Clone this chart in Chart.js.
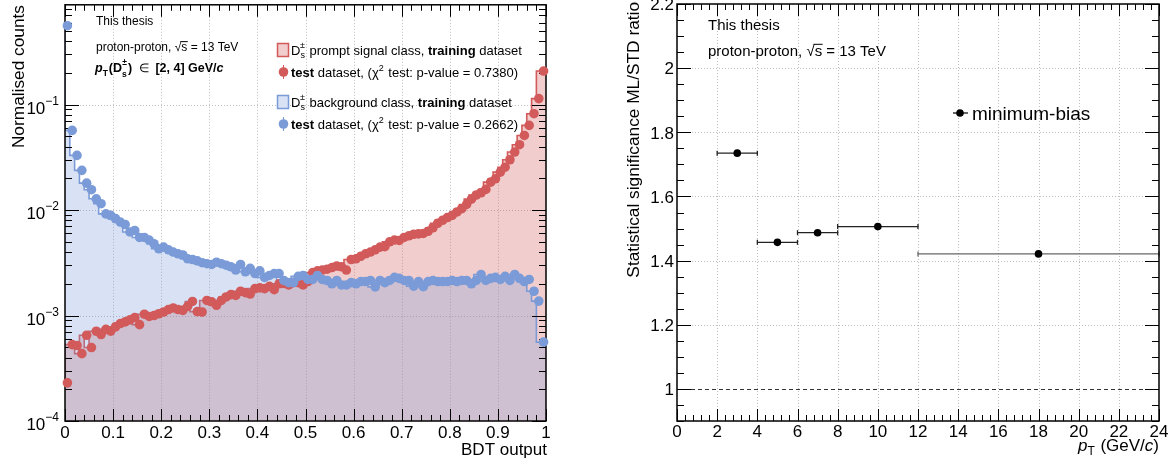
<!DOCTYPE html>
<html>
<head>
<meta charset="utf-8">
<script src="https://cdn.jsdelivr.net/npm/chart.js@4.4.1/dist/chart.umd.min.js"></script>
<style>
  html, body { margin: 0; padding: 0; background: #fff; }
  #wrap { position: relative; width: 1176px; height: 464px; }
  canvas { position: absolute; top: 0; }
  #bdtCanvas { left: 0; }
  #sigCanvas { left: 588px; }
</style>
</head>
<body>
<div id="wrap">
  <canvas id="bdtCanvas" width="588" height="464"></canvas>
  <canvas id="sigCanvas" width="588" height="464"></canvas>
</div>
<script>
// ---- left panel: BDT output, 100 bins between 0 and 1 ----
const bdtRange = [0, 1];
const nBins = 100;

// Ds prompt signal class, test dataset (normalised counts per bin)
const signalTest = [
  2.3e-4, 5.3e-4, 5.2e-4, 4.35e-4, 6.5e-4, 4.97e-4, 7.1e-4, 6.6e-4, 7.4e-4, 7.1e-4,
  7.8e-4, 8.4e-4, 8.7e-4, 9.1e-4, 9.55e-4, 8.2e-4, 1.03e-3, 9.8e-4, 1.0e-3, 1.04e-3,
  1.08e-3, 1.14e-3, 1.18e-3, 1.14e-3, 1.12e-3, 1.22e-3, 1.36e-3, 1.09e-3, 1.08e-3, 1.39e-3,
  1.35e-3, 1.25e-3, 1.39e-3, 1.5e-3, 1.58e-3, 1.55e-3, 1.7e-3, 1.65e-3, 1.6e-3, 1.8e-3,
  1.83e-3, 1.8e-3, 1.89e-3, 1.76e-3, 2.0e-3, 2.02e-3, 1.95e-3, 2.05e-3, 2.05e-3, 1.95e-3,
  2.1e-3, 2.55e-3, 2.65e-3, 2.7e-3, 2.75e-3, 2.85e-3, 2.95e-3, 2.9e-3, 2.7e-3, 3.4e-3,
  3.45e-3, 3.65e-3, 3.85e-3, 4.0e-3, 4.2e-3, 4.45e-3, 4.5e-3, 5.0e-3, 5.2e-3, 5.15e-3,
  5.5e-3, 5.7e-3, 5.9e-3, 5.95e-3, 6.0e-3, 6.3e-3, 6.8e-3, 7.5e-3, 8.0e-3, 8.5e-3,
  8.9e-3, 9.6e-3, 1.03e-2, 1.13e-2, 1.27e-2, 1.39e-2, 1.46e-2, 1.57e-2, 1.84e-2, 1.98e-2,
  2.29e-2, 2.55e-2, 3.0e-2, 3.55e-2, 4.17e-2, 5.1e-2, 6.35e-2, 8.2e-2, 0.114, 0.208
];

// Ds background class, test dataset
const bkgTest = [
  0.56, 0.057, 0.033, 0.0238, 0.018, 0.0156, 0.0128, 0.0115, 0.0092, 0.0089,
  0.0083, 0.0077, 0.0073, 0.0062, 0.0064, 0.0055, 0.0055, 0.0052, 0.0048, 0.0043,
  0.00445, 0.0042, 0.0040, 0.00385, 0.00375, 0.00345, 0.0034, 0.0033, 0.00317, 0.0031,
  0.00305, 0.0032, 0.0031, 0.0030, 0.0029, 0.0027, 0.00305, 0.0026, 0.0028, 0.0025,
  0.00265, 0.0023, 0.0024, 0.0025, 0.0025, 0.00215, 0.00205, 0.00205, 0.00235, 0.0024,
  0.0022, 0.0022, 0.0024, 0.0022, 0.00215, 0.0020, 0.00215, 0.00195, 0.00195, 0.00205,
  0.0020, 0.0021, 0.0021, 0.00215, 0.00187, 0.00215, 0.00205, 0.00215, 0.0023, 0.00225,
  0.00215, 0.00215, 0.0019, 0.0021, 0.00188, 0.0021, 0.00215, 0.0021, 0.0021, 0.0021,
  0.00215, 0.0021, 0.00215, 0.00215, 0.0020, 0.00215, 0.00245, 0.00215, 0.00225, 0.0023,
  0.0022, 0.00235, 0.00215, 0.00245, 0.00225, 0.0021, 0.0022, 0.0017, 0.00137, 0.00056
];

// training histograms coincide with the test points at this resolution
const signalTrain = signalTest.slice();
const bkgTrain = bkgTest.slice();

const bdtXTicks = [0, 0.1, 0.2, 0.3, 0.4, 0.5, 0.6, 0.7, 0.8, 0.9, 1];
const bdtXLabels = ['0', '0.1', '0.2', '0.3', '0.4', '0.5', '0.6', '0.7', '0.8', '0.9', '1'];
const bdtYTicks = [1e-4, 1e-3, 1e-2, 1e-1];
const bdtYExp = ['\u22124', '\u22123', '\u22122', '\u22121'];

// ---- right panel: significance ratio vs pT ----
const ptLow = [2, 4, 6, 8, 12];
const ptHigh = [4, 6, 8, 12, 24];
const ptCentre = [3, 5, 7, 10, 18];
const sigRatio = [1.735, 1.457, 1.487, 1.506, 1.421];

const ptXTicks = [0, 2, 4, 6, 8, 10, 12, 14, 16, 18, 20, 22, 24];
const sigYTicks = [1, 1.2, 1.4, 1.6, 1.8, 2, 2.2];
const sigYLabels = ['1', '1.2', '1.4', '1.6', '1.8', '2', '2.2'];

const SANS = '"Liberation Sans", Arial, Helvetica, sans-serif';
const RED = '#d25a5a';
const BLUE = '#7a9bd8';
const RED_FILL = 'rgba(210, 90, 90, 0.3)';
const BLUE_FILL = 'rgba(122, 155, 216, 0.29)';

function range(a, b, step) {
  const n = Math.round((b - a) / step);
  return Array.from({ length: n + 1 }, (_, i) => +(a + i * step).toFixed(6));
}

function binCentres(vals) {
  const w = (bdtRange[1] - bdtRange[0]) / nBins;
  return vals.map((v, i) => ({ x: bdtRange[0] + (i + 0.5) * w, y: v }));
}

function binEdges(vals) {
  const w = (bdtRange[1] - bdtRange[0]) / nBins;
  const pts = vals.map((v, i) => ({ x: bdtRange[0] + i * w, y: v }));
  pts.push({ x: bdtRange[1], y: vals[vals.length - 1] });
  return pts;
}

function line(ctx, x1, y1, x2, y2) {
  ctx.beginPath(); ctx.moveTo(x1, y1); ctx.lineTo(x2, y2); ctx.stroke();
}

// draws a run of text pieces: [text, font, dy, extraAdvance]
function rich(ctx, x, y, parts, align) {
  let w = 0;
  parts.forEach(p => { ctx.font = p[1]; w += ctx.measureText(p[0]).width + (p[3] || 0); });
  let cx = align === 'right' ? x - w : x;
  ctx.textAlign = 'left';
  ctx.textBaseline = 'alphabetic';
  const xs = [];
  parts.forEach(p => {
    ctx.font = p[1];
    xs.push(cx);
    ctx.fillText(p[0], cx, y + (p[2] || 0));
    cx += ctx.measureText(p[0]).width + (p[3] || 0);
  });
  return xs;
}

// "proton-proton, sqrt(s) = 13 TeV"
function collisionText(ctx, x, y, size) {
  const f = `${size}px ${SANS}`;
  const xs = rich(ctx, x, y, [['proton-proton, ', f], ['\u221A', f], ['s', f], [' = 13 TeV', f]]);
  ctx.font = f;
  const sw = ctx.measureText('s').width;
  ctx.lineWidth = 1;
  line(ctx, xs[2] - 1, y - size * 0.78, xs[2] + sw + 0.5, y - size * 0.78);
}

// ROOT-like frame: grid, box and inward ticks
function frameOf(spec) {
  function drawGrid(chart) {
    const { ctx, chartArea: a, scales } = chart;
    ctx.save();
    ctx.strokeStyle = '#bdbdbd';
    ctx.lineWidth = 1;
    ctx.setLineDash([1, 2]);
    spec.gridX.forEach(v => {
      const p = Math.round(scales.x.getPixelForValue(v)) + 0.5;
      line(ctx, p, a.top, p, a.bottom);
    });
    spec.gridY.forEach(v => {
      const p = Math.round(scales.y.getPixelForValue(v)) + 0.5;
      line(ctx, a.left, p, a.right, p);
    });
    ctx.restore();
  }
  function drawBox(chart) {
    const { ctx, chartArea: a, scales } = chart;
    ctx.save();
    ctx.strokeStyle = '#000';
    ctx.lineWidth = 1;
    const tickX = (vals, len) => vals.forEach(v => {
      const p = Math.round(scales.x.getPixelForValue(v)) + 0.5;
      line(ctx, p, a.bottom, p, a.bottom - len);
      line(ctx, p, a.top, p, a.top + len);
    });
    const tickY = (vals, len) => vals.forEach(v => {
      const p = Math.round(scales.y.getPixelForValue(v)) + 0.5;
      line(ctx, a.left, p, a.left + len, p);
      line(ctx, a.right, p, a.right - len, p);
    });
    tickX(spec.xMinor, 6);
    tickX(spec.xMajor, 12);
    tickY(spec.yMinor, 7);
    tickY(spec.yMajor, 14);
    ctx.lineWidth = 1.5;
    ctx.strokeRect(a.left, a.top, a.right - a.left, a.bottom - a.top);
    ctx.restore();
  }
  return {
    id: 'rootFrame',
    beforeDatasetsDraw(chart) {
      drawGrid(chart);
      if (spec.before) spec.before(chart);
      if (spec.frameAfter == null) drawBox(chart);
    },
    afterDatasetDraw(chart, args) {
      if (args.index === spec.frameAfter) drawBox(chart);
    },
    afterDraw(chart) {
      const { ctx } = chart;
      ctx.save();
      ctx.fillStyle = '#000';
      ctx.strokeStyle = '#000';
      spec.labels(chart);
      ctx.restore();
    }
  };
}

// ---------- left chart ----------
const logMinors = [];
for (let d = -4; d <= -1; d++) {
  for (let k = 2; k <= 9; k++) {
    const v = k * Math.pow(10, d);
    if (v < 0.884) logMinors.push(v);
  }
}

const bdtSpec = {
  xMajor: bdtXTicks,
  xMinor: range(0, 1, 0.02),
  yMajor: bdtYTicks,
  yMinor: logMinors,
  gridX: bdtXTicks.slice(1, -1),
  gridY: bdtYTicks.slice(1),
  frameAfter: 2,
  labels(chart) {
    const { ctx, scales } = chart;
    const f17 = `17px ${SANS}`;
    // x tick labels
    ctx.font = f17;
    ctx.textAlign = 'center';
    ctx.textBaseline = 'alphabetic';
    bdtXTicks.forEach((v, i) => ctx.fillText(bdtXLabels[i], scales.x.getPixelForValue(v), 438));
    // y tick labels 10^n
    bdtYTicks.forEach((v, i) => {
      const py = scales.y.getPixelForValue(v);
      rich(ctx, 59, py + 9, [['10', f17], [bdtYExp[i], `12px ${SANS}`, -9]], 'right');
    });
    // axis titles
    ctx.font = f17;
    ctx.textAlign = 'right';
    ctx.fillText('BDT output', 547, 455);
    ctx.save();
    ctx.translate(24, 5);
    ctx.rotate(-Math.PI / 2);
    ctx.font = `17.3px ${SANS}`;
    ctx.textAlign = 'right';
    ctx.fillText('Normalised counts', 0, 0);
    ctx.restore();

    // info text
    ctx.font = `12px ${SANS}`;
    ctx.textAlign = 'left';
    ctx.fillText('This thesis', 96, 25);
    collisionText(ctx, 96, 51, 12);
    const b12 = `bold 12.5px ${SANS}`;
    const bi12 = `italic bold 12.5px ${SANS}`;
    const b8 = `bold 8.5px ${SANS}`;
    rich(ctx, 95, 71.5, [
      ['p', bi12], ['T', b8, 4, 1], ['(D', b12], ['s', b8, 5, -4.5], ['\u00B1', b8, -7, 1],
      [')', b12], ['  \u2208  ', `12px ${SANS}`], ['[2, 4] GeV/', b12], ['c', bi12]
    ]);

    // legend
    const f13 = `13px ${SANS}`;
    const b13 = `bold 13px ${SANS}`;
    const f9 = `9px ${SANS}`;
    const boxes = [[43, RED, RED_FILL, 'prompt signal class, ', 55], [95, BLUE, BLUE_FILL, 'background class, ', 107]];
    boxes.forEach(([top, col, fill, txt, base]) => {
      ctx.fillStyle = '#fff';
      ctx.fillRect(277, top, 12, 14);
      ctx.fillStyle = fill;
      ctx.fillRect(277, top, 12, 14);
      ctx.strokeStyle = col;
      ctx.lineWidth = 1.5;
      ctx.strokeRect(277.5, top + 0.5, 11, 13);
      ctx.fillStyle = '#000';
      rich(ctx, 291, base, [
        ['D', f13], ['s', f9, 3, -5], ['\u00B1', f9, -7, 1], [' ' + txt, f13], ['training', b13], [' dataset', f13]
      ]);
    });
    const marks = [[72, RED, '0.7380', 76.5], [124, BLUE, '0.2662', 128.5]];
    marks.forEach(([cy, col, pv, base]) => {
      ctx.strokeStyle = col;
      ctx.lineWidth = 1;
      line(ctx, 283.5, cy - 7, 283.5, cy + 7);
      ctx.fillStyle = col;
      ctx.beginPath();
      ctx.arc(283.5, cy, 4.8, 0, Math.PI * 2);
      ctx.fill();
      ctx.fillStyle = '#000';
      rich(ctx, 291, base, [
        ['test', b13], [' dataset, (', f13], ['\u03C7', f13], ['2', f9, -6, 1],
        [' test: p-value = ' + pv + ')', f13]
      ]);
    });
  }
};

new Chart(document.getElementById('bdtCanvas'), {
  type: 'line',
  data: {
    datasets: [
      { label: 'background test', data: binCentres(bkgTest), showLine: false, pointRadius: 4.8,
        pointBorderWidth: 0, backgroundColor: BLUE, borderColor: BLUE, clip: false, order: 1 },
      { label: 'signal test', data: binCentres(signalTest), showLine: false, pointRadius: 4.8,
        pointBorderWidth: 0, backgroundColor: RED, borderColor: RED, clip: false, order: 2 },
      { label: 'background training', data: binEdges(bkgTrain), stepped: 'after', borderColor: BLUE,
        borderWidth: 1.6, backgroundColor: BLUE_FILL, fill: 'start', pointRadius: 0, order: 3 },
      { label: 'signal training', data: binEdges(signalTrain), stepped: 'after', borderColor: RED,
        borderWidth: 1.6, backgroundColor: RED_FILL, fill: 'start', pointRadius: 0, order: 4 }
    ]
  },
  options: {
    responsive: false,
    animation: false,
    events: [],
    layout: { padding: { left: 65, right: 42, top: 4, bottom: 43 } },
    plugins: { legend: { display: false }, tooltip: { enabled: false } },
    scales: {
      x: { type: 'linear', min: bdtRange[0], max: bdtRange[1], display: false },
      y: { type: 'logarithmic', min: 1e-4, max: 0.884, display: false }
    }
  },
  plugins: [frameOf(bdtSpec)]
});

// ---------- right chart ----------
const sigSpec = {
  xMajor: ptXTicks,
  xMinor: range(0, 24, 0.4),
  yMajor: sigYTicks,
  yMinor: range(0.9, 2.2, 0.05),
  gridX: ptXTicks.slice(1, -1),
  gridY: sigYTicks.slice(1, -1),
  before(chart) {
    const { ctx, chartArea: a, scales } = chart;
    ctx.save();
    // reference line at ratio = 1
    ctx.strokeStyle = '#333';
    ctx.lineWidth = 1.2;
    ctx.setLineDash([4, 3]);
    const py = Math.round(scales.y.getPixelForValue(1)) + 0.5;
    line(ctx, a.left, py, a.right, py);
    ctx.setLineDash([]);
    // pT bin widths as horizontal error bars
    ctx.lineWidth = 1.3;
    ptCentre.forEach((c, i) => {
      ctx.strokeStyle = ptHigh[i] - ptLow[i] > 6 ? '#666' : '#222';
      const y = scales.y.getPixelForValue(sigRatio[i]);
      const x1 = scales.x.getPixelForValue(ptLow[i]);
      const x2 = scales.x.getPixelForValue(ptHigh[i]);
      line(ctx, x1, y, x2, y);
      line(ctx, x1, y - 2.5, x1, y + 2.5);
      line(ctx, x2, y - 2.5, x2, y + 2.5);
    });
    ctx.restore();
  },
  labels(chart) {
    const { ctx, scales } = chart;
    const f17 = `17px ${SANS}`;
    ctx.font = f17;
    ctx.textAlign = 'center';
    ctx.textBaseline = 'alphabetic';
    ptXTicks.forEach(v => ctx.fillText(String(v), scales.x.getPixelForValue(v), 437));
    ctx.textAlign = 'right';
    sigYTicks.forEach((v, i) => ctx.fillText(sigYLabels[i], 86, scales.y.getPixelForValue(v) + 6.3));

    // axis titles
    rich(ctx, 571, 451, [
      ['p', `italic 17px ${SANS}`], ['T', `12px ${SANS}`, 4, 1], [' (GeV/', f17], ['c', `italic 17px ${SANS}`], [')', f17]
    ], 'right');
    ctx.save();
    ctx.translate(51, 2);
    ctx.rotate(-Math.PI / 2);
    ctx.font = `17.3px ${SANS}`;
    ctx.textAlign = 'right';
    ctx.fillText('Statistical significance ML/STD ratio', 0, 0);
    ctx.restore();

    // info text
    ctx.font = `15px ${SANS}`;
    ctx.textAlign = 'left';
    ctx.fillText('This thesis', 120, 30);
    collisionText(ctx, 120, 56, 15);

    // legend
    ctx.strokeStyle = '#000';
    ctx.lineWidth = 1.2;
    line(ctx, 365, 113, 380, 113);
    ctx.beginPath();
    ctx.arc(372, 113, 3.8, 0, Math.PI * 2);
    ctx.fill();
    ctx.font = `19px ${SANS}`;
    ctx.fillText('minimum-bias', 384, 120);
  }
};

new Chart(document.getElementById('sigCanvas'), {
  type: 'line',
  data: {
    datasets: [
      { label: 'minimum-bias', data: ptCentre.map((x, i) => ({ x: x, y: sigRatio[i] })), showLine: false,
        pointRadius: 3.8, pointBorderWidth: 0, backgroundColor: '#000', borderColor: '#000', clip: false }
    ]
  },
  options: {
    responsive: false,
    animation: false,
    events: [],
    layout: { padding: { left: 89, right: 17, top: 3, bottom: 43 } },
    plugins: { legend: { display: false }, tooltip: { enabled: false } },
    scales: {
      x: { type: 'linear', min: 0, max: 24, display: false },
      y: { type: 'linear', min: 0.9, max: 2.2, display: false }
    }
  },
  plugins: [frameOf(sigSpec)]
});
</script>
</body>
</html>
